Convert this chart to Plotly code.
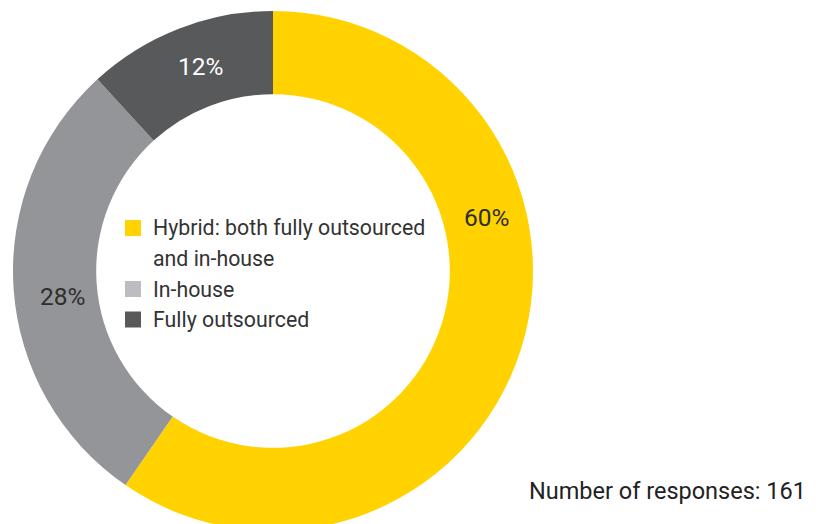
import plotly.graph_objects as go

# Data
categories = ["Hybrid: both fully outsourced<br>and in-house", "In-house", "Fully outsourced"]
values = [59.6, 28.6, 11.8]          # slice sizes as drawn (96/46/19 of 161 responses)
value_labels = ["60%", "28%", "12%"]  # percentages as printed on the chart
slice_colors = ["#FFD200", "#939598", "#58595B"]
legend_colors = ["#FFD200", "#BCBDC0", "#58595B"]
label_colors = ["#2E2E2E", "#2E2E2E", "#FFFFFF"]
footnote = "Number of responses: 161"

W, H = 823, 524
OFF = 8  # page body margin
FONT = "Roboto"

def px(x):
    return (x - OFF) / W

def py(y):
    return 1 - (y - OFF) / H

fig = go.Figure()
fig.add_trace(go.Pie(
    labels=categories,
    values=values,
    sort=False,
    direction="clockwise",
    rotation=0,
    hole=0.68,
    marker=dict(colors=slice_colors, line=dict(width=0)),
    textinfo="none",
    hoverinfo="label+percent",
    showlegend=False,
    domain=dict(x=[px(13), px(533)], y=[py(531), py(11)]),
))

# Percentage labels
label_pos = [(486, 218), (62, 296.5), (200.5, 66.5)]
for t, (x, y), c in zip(value_labels, label_pos, label_colors):
    fig.add_annotation(x=px(x), y=py(y), xref="paper", yref="paper",
                       text=t, showarrow=False,
                       font=dict(family=FONT, size=24.5, color=c),
                       xanchor="center", yanchor="middle")

# Custom legend inside the hole
row_y = [228, 289, 319.5]
line_gap = 30
for cat, col, y in zip(categories, legend_colors, row_y):
    fig.add_shape(type="rect", xref="paper", yref="paper",
                  x0=px(125), x1=px(141), y0=py(y - 8), y1=py(y + 8),
                  fillcolor=col, line=dict(width=0))
    for i, line in enumerate(cat.split("<br>")):
        fig.add_annotation(x=px(151), y=py(y + i * line_gap), xref="paper", yref="paper",
                           text=line, showarrow=False,
                           font=dict(family=FONT, size=21.3, color="#333333"),
                           xanchor="left", yanchor="middle")

fig.add_annotation(x=px(808), y=py(490.5), xref="paper", yref="paper",
                   text=footnote, showarrow=False,
                   font=dict(family=FONT, size=23.5, color="#222222"),
                   xanchor="right", yanchor="middle")

fig.update_layout(width=W, height=H, margin=dict(l=0, r=0, t=0, b=0),
                  paper_bgcolor="white", plot_bgcolor="white")

fig.write_html("out.html")
